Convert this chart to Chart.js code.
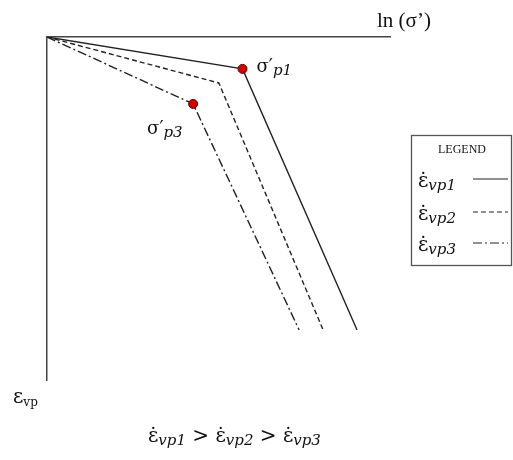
<!DOCTYPE html>
<html>
<head>
<meta charset="utf-8">
<script src="https://cdn.jsdelivr.net/npm/chart.js@4.4.0/dist/chart.umd.min.js"></script>
<style>
  body { margin: 0; background: #fff; }
  #wrap { width: 513px; height: 460px; }
</style>
</head>
<body>
<div id="wrap"><canvas id="chart" width="513" height="460"></canvas></div>
<script>
// Curvas ln(sigma') x eps_vp para tres velocidades de deformacao
var rateNames = ['vp1', 'vp2', 'vp3'];
var lnStress1 = [0, 57, 90.4];
var strain1 = [0, 9.3, 85.4];
var lnStress2 = [0, 50.1, 80.5];
var strain2 = [0, 13.4, 85.4];
var lnStress3 = [0, 42.6, 73.5];
var strain3 = [0, 19.5, 85.4];
// ponto de pre-adensamento marcado (indice do vertice), -1 = sem marca
var yieldMark = [1, -1, 1];
var yieldLabels = ['p1', '', 'p3'];

var dashes = [[], [5, 3], [9, 3, 2, 3]];
var lineColor = '#222';
var serif = '"DejaVu Serif", serif';
var times = '"Liberation Serif", serif';

function toPoints(xs, ys) {
    var pts = [];
    for (var i = 0; i < xs.length; i++) {
        pts.push({ x: xs[i], y: ys[i] });
    }
    return pts;
}

var series = [toPoints(lnStress1, strain1), toPoints(lnStress2, strain2), toPoints(lnStress3, strain3)];

var datasets = series.map(function (pts, i) {
    return {
        label: rateNames[i],
        data: pts,
        showLine: true,
        borderColor: lineColor,
        borderWidth: 1.4,
        borderDash: dashes[i],
        pointRadius: pts.map(function (p, k) { return k === yieldMark[i] ? 4.5 : 0; }),
        pointBackgroundColor: '#d40000',
        pointBorderColor: '#5a0000',
        pointBorderWidth: 1,
        tension: 0
    };
});

// desenha texto com subscrito e devolve a posicao x final
function drawSub(ctx, main, sub, x, y, size, subSize, subItalic) {
    ctx.font = size + 'px ' + serif;
    ctx.fillText(main, x, y);
    x += ctx.measureText(main).width;
    ctx.font = (subItalic ? 'italic ' : '') + subSize + 'px ' + serif;
    ctx.fillText(sub, x, y + 3);
    return x + ctx.measureText(sub).width;
}

var textPlugin = {
    id: 'textos',
    afterDraw: function (chart) {
        var ctx = chart.ctx;
        var xs = chart.scales.x, ys = chart.scales.y;
        ctx.save();
        ctx.fillStyle = '#111';
        ctx.textBaseline = 'alphabetic';
        ctx.textAlign = 'left';

        // rotulo do eixo horizontal
        ctx.font = '21px ' + times;
        ctx.fillText('ln (\u03c3\u2019)', 377, 27);

        // rotulo do eixo vertical
        drawSub(ctx, '\u03b5', 'vp', 13, 403, 20, 12, false);

        // rotulos dos pontos de escoamento
        series.forEach(function (pts, i) {
            if (yieldMark[i] < 0) return;
            var p = pts[yieldMark[i]];
            var px = xs.getPixelForValue(p.x), py = ys.getPixelForValue(p.y);
            if (i === 0) {
                drawSub(ctx, '\u03c3\u2032', yieldLabels[i], px + 14, py + 3, 18, 15, true);
            } else {
                drawSub(ctx, '\u03c3\u2032', yieldLabels[i], px - 46, py + 30, 18, 15, true);
            }
        });

        // legenda
        ctx.strokeStyle = '#555';
        ctx.lineWidth = 1.3;
        ctx.strokeRect(411.5, 135.5, 100, 130);
        ctx.font = '12px ' + times;
        ctx.textAlign = 'center';
        ctx.fillText('LEGEND', 462, 153);
        ctx.textAlign = 'left';
        var baseY = [187, 220, 251];
        rateNames.forEach(function (name, i) {
            drawSub(ctx, '\u03b5\u0307', name, 418, baseY[i], 20, 15, true);
            ctx.save();
            ctx.strokeStyle = lineColor;
            ctx.lineWidth = 1.2;
            ctx.setLineDash(dashes[i]);
            ctx.beginPath();
            ctx.moveTo(473, baseY[i] - 8);
            ctx.lineTo(508, baseY[i] - 8);
            ctx.stroke();
            ctx.restore();
        });

        // relacao entre as velocidades
        var x = 148;
        rateNames.forEach(function (name, i) {
            x = drawSub(ctx, '\u03b5\u0307', name, x, 442, 20, 15, true);
            if (i < rateNames.length - 1) {
                ctx.font = '20px ' + serif;
                ctx.fillText(' > ', x, 442);
                x += ctx.measureText(' > ').width;
            }
        });
        ctx.restore();
    }
};

var ctx = document.getElementById('chart').getContext('2d');
var chart = new Chart(ctx, {
    type: 'scatter',
    data: { datasets: datasets },
    options: {
        responsive: false,
        animation: false,
        layout: { padding: { left: 47, top: 37, right: 123, bottom: 80 } },
        plugins: { legend: { display: false }, tooltip: { enabled: false } },
        scales: {
            x: {
                type: 'linear', position: 'top', min: 0, max: 100,
                grid: { display: false },
                ticks: { display: false },
                border: { display: true, color: '#444', width: 1.5 },
                afterFit: function (s) { s.height = 0; }
            },
            y: {
                type: 'linear', reverse: true, min: 0, max: 100,
                grid: { display: false },
                ticks: { display: false },
                border: { display: true, color: '#444', width: 1.5 },
                afterFit: function (s) { s.width = 0; }
            }
        }
    },
    plugins: [textPlugin]
});
</script>
</body>
</html>
